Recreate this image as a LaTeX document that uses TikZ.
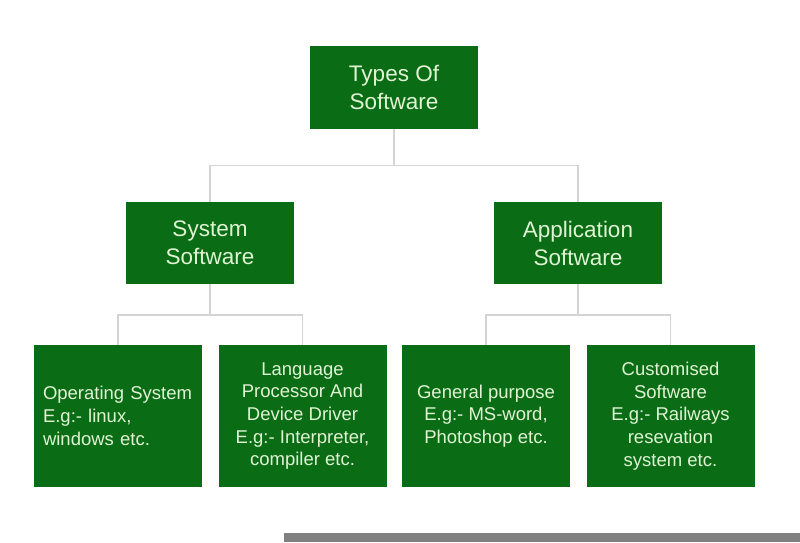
\documentclass[tikz,border=0pt]{standalone}
\usepackage{fontspec}
\setmainfont{Liberation Sans}
\definecolor{boxgreen}{RGB}{11,108,22}
\definecolor{txtgreen}{RGB}{224,244,212}
\definecolor{conngray}{RGB}{212,212,212}
\definecolor{bargray}{RGB}{128,128,128}
\tikzset{
  gbox/.style={fill=boxgreen, draw=none, text=txtgreen, align=center, inner sep=0pt, minimum width=168pt},
  bigbox/.style={gbox, minimum height=82pt, font=\fontsize{22.5}{28}\selectfont},
  leafbox/.style={gbox, minimum height=142pt, font=\fontsize{18.5}{22.7}\selectfont},
  conn/.style={draw=conngray, line width=1.5pt}
}
\begin{document}
\begin{tikzpicture}[x=1pt,y=-1pt]
\useasboundingbox (0,0) rectangle (800,542);
\node[bigbox, minimum height=83pt] (top) at (394,87.5) {Types Of\\Software};
\node[bigbox] (sys) at (210,243) {System\\Software};
\node[bigbox] (app) at (578,243) {Application\\Software};
\node[leafbox, align=left, text width=150pt] (os) at (118,416) {Operating System\\E.g:- linux,\\windows etc.};
\node[leafbox] (lp) at (302.5,416) {Language\\Processor And\\Device Driver\\E.g:- Interpreter,\\compiler etc.};
\node[leafbox] (gp) at (486,416) {General purpose\\E.g:- MS-word,\\Photoshop etc.};
\node[leafbox] (cs) at (670.5,416) {Customised\\Software\\E.g:- Railways\\resevation\\system etc.};
\draw[conn] (top.south) -- ++(0,36.5) coordinate (tj);
\draw[conn] (sys.north) |- (tj) -| (app.north);
\draw[conn] (sys.south) -- ++(0,31) coordinate (sj);
\draw[conn] (os.north) |- (sj) -| (lp.north);
\draw[conn] (app.south) -- ++(0,31) coordinate (aj);
\draw[conn] (gp.north) |- (aj) -| (cs.north);
\fill[bargray] (284,533) rectangle (800,542);
\end{tikzpicture}
\end{document}
